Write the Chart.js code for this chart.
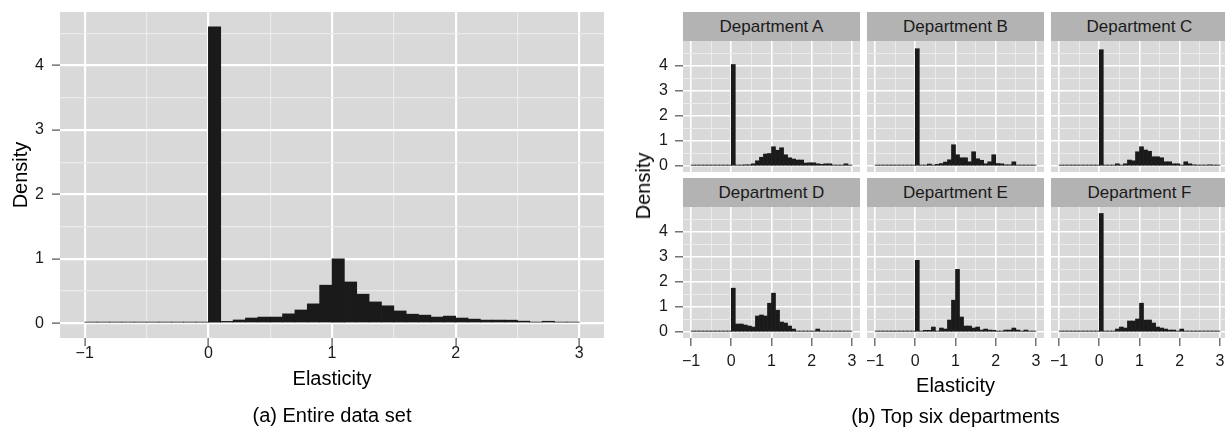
<!DOCTYPE html>
<html>
<head>
<meta charset="utf-8">
<title>Elasticity histograms</title>
<script src="https://cdn.jsdelivr.net/npm/chart.js@4.4.1/dist/chart.umd.min.js"></script>
<style>
  html, body { margin: 0; padding: 0; background: #fff; overflow: hidden; }
  body { width: 1225px; height: 431px; position: relative; font-family: 'Liberation Sans', Arial, sans-serif; }
  canvas { position: absolute; }
  .strip { position: absolute; height: 29px; line-height: 29px; background: #b3b3b3; color: #1a1a1a; text-align: center; font-size: 17px; }
  .label { position: absolute; color: #000; font-size: 20px; line-height: 24px; white-space: nowrap; text-align: center; }
</style>
</head>
<body>
<canvas id="chartAll" width="610" height="431" style="left:0;top:0"></canvas>
<div id="facets"></div>
<div class="label" style="left:683px;width:545px;top:373px">Elasticity</div>
<div class="label" style="left:683px;width:545px;top:404px">(b) Top six departments</div>
<div class="label" style="left:643px;top:186px;transform:translate(-50%,-50%) rotate(-90deg)">Density</div>

<script>
// Bin mid-points (bins of width 0.1 from -1 to 3)
const binMids = [-0.95, -0.85, -0.75, -0.65, -0.55, -0.45, -0.35, -0.25, -0.15, -0.05,
    0.05, 0.15, 0.25, 0.35, 0.45, 0.55, 0.65, 0.75, 0.85, 0.95,
    1.05, 1.15, 1.25, 1.35, 1.45, 1.55, 1.65, 1.75, 1.85, 1.95,
    2.05, 2.15, 2.25, 2.35, 2.45, 2.55, 2.65, 2.75, 2.85, 2.95];

// Tick values (half steps only carry minor grid lines)
const xTicks = [-1, -0.5, 0, 0.5, 1, 1.5, 2, 2.5, 3];
const yTicks = [0, 0.5, 1, 1.5, 2, 2.5, 3, 3.5, 4, 4.5];

// (a) entire data set - density per bin
const allData = [0.005, 0.005, 0.005, 0.012, 0.012, 0.006, 0.005, 0.005, 0.005, 0.005,
    4.6, 0.028, 0.05, 0.08, 0.095, 0.095, 0.145, 0.205, 0.3, 0.59,
    1.0, 0.64, 0.45, 0.33, 0.27, 0.19, 0.14, 0.125, 0.095, 0.11,
    0.08, 0.063, 0.048, 0.048, 0.047, 0.032, 0.016, 0.03, 0.016, 0.016];

// (b) top six departments
const deptNames = ['Department A', 'Department B', 'Department C', 'Department D', 'Department E', 'Department F'];
const deptA = [0.01, 0.01, 0.01, 0.01, 0.01, 0.01, 0.01, 0.01, 0.01, 0.01,
    4.05, 0.01, 0.01, 0.05, 0.05, 0.09, 0.21, 0.35, 0.48, 0.5,
    0.77, 0.63, 0.73, 0.45, 0.33, 0.28, 0.24, 0.24, 0.12, 0.13,
    0.13, 0.09, 0.07, 0.09, 0.09, 0.04, 0.04, 0.04, 0.09, 0.02];
const deptB = [0.01, 0.01, 0.01, 0.01, 0.01, 0.01, 0.01, 0.01, 0.01, 0.01,
    4.68, 0.01, 0.01, 0.08, 0.03, 0.07, 0.1, 0.16, 0.25, 0.85,
    0.45, 0.33, 0.33, 0.17, 0.57, 0.29, 0.23, 0.09, 0.17, 0.45,
    0.1, 0.09, 0.05, 0.05, 0.17, 0.01, 0.01, 0.01, 0.01, 0.01];
const deptC = [0.01, 0.01, 0.01, 0.01, 0.01, 0.01, 0.01, 0.01, 0.01, 0.01,
    4.64, 0.01, 0.01, 0.01, 0.09, 0.02, 0.09, 0.24, 0.21, 0.57,
    0.77, 0.64, 0.59, 0.37, 0.37, 0.33, 0.17, 0.17, 0.09, 0.09,
    0.02, 0.17, 0.09, 0.05, 0.01, 0.01, 0.01, 0.05, 0.01, 0.01];
const deptD = [0.01, 0.01, 0.01, 0.01, 0.03, 0.03, 0.03, 0.01, 0.01, 0.01,
    1.75, 0.32, 0.32, 0.28, 0.24, 0.2, 0.64, 0.68, 0.64, 1.15,
    1.55, 0.87, 0.4, 0.36, 0.24, 0.12, 0.04, 0.04, 0.01, 0.04,
    0.04, 0.12, 0.04, 0.04, 0.01, 0.01, 0.04, 0.01, 0.04, 0.01];
const deptE = [0.01, 0.03, 0.01, 0.01, 0.03, 0.01, 0.01, 0.01, 0.01, 0.01,
    2.86, 0.03, 0.07, 0.07, 0.2, 0.03, 0.16, 0.12, 0.48, 1.27,
    2.5, 0.6, 0.24, 0.24, 0.16, 0.2, 0.08, 0.12, 0.08, 0.07,
    0.04, 0.04, 0.08, 0.08, 0.16, 0.08, 0.04, 0.08, 0.03, 0.04];
const deptF = [0.03, 0.01, 0.01, 0.01, 0.04, 0.04, 0.01, 0.01, 0.01, 0.01,
    4.73, 0.02, 0.04, 0.01, 0.12, 0.2, 0.16, 0.44, 0.44, 0.52,
    1.15, 0.48, 0.48, 0.36, 0.2, 0.16, 0.12, 0.08, 0.08, 0.04,
    0.12, 0.03, 0.01, 0.04, 0.03, 0.01, 0.04, 0.01, 0.01, 0.04];
const deptData = [deptA, deptB, deptC, deptD, deptE, deptF];

// Axis ranges (ggplot style 5% expansion)
const xMin = -1.2, xMax = 3.2;
const allYMin = -0.23, allYMax = 4.83;
const deptYMin = -0.2375, deptYMax = 4.9875;

Chart.defaults.font.family = "'Liberation Sans', Arial, sans-serif";

// Grey panel behind the grid
const panelBg = {
    id: 'panelBg',
    beforeDraw(chart) {
        const a = chart.chartArea;
        const ctx = chart.ctx;
        ctx.save();
        ctx.fillStyle = '#d9d9d9';
        ctx.fillRect(a.left, a.top, a.right - a.left, a.bottom - a.top);
        ctx.restore();
    }
};

// Force an axis to a fixed thickness so the panels line up
function fixAxis(size) {
    return function (scale) {
        if (scale.isHorizontal()) scale.height = size; else scale.width = size;
        scale.paddingLeft = scale.paddingRight = scale.paddingTop = scale.paddingBottom = 0;
    };
}

function useTicks(values) {
    return function (scale) {
        scale.ticks = values.map(v => ({ value: v }));
    };
}

function tickText(v) {
    if (!Number.isInteger(v)) return '';
    return v < 0 ? '\u2212' + Math.abs(v) : String(v);
}

const isMajor = ctx => ctx.tick && Number.isInteger(ctx.tick.value);

function axisGrid(major, minor, showTicks) {
    return {
        offset: false,
        color: ctx => isMajor(ctx) ? '#ffffff' : '#ebebeb',
        lineWidth: ctx => isMajor(ctx) ? major : minor,
        drawTicks: showTicks,
        tickLength: 8,
        tickWidth: 1.3,
        tickColor: ctx => isMajor(ctx) ? '#5e5e5e' : 'rgba(0,0,0,0)'
    };
}

function histogram(canvas, values, cfg) {
    return new Chart(canvas, {
        type: 'bar',
        data: {
            datasets: [{
                data: binMids.map((m, i) => ({ x: m, y: values[i] })),
                backgroundColor: '#1a1a1a',
                borderWidth: 0,
                barPercentage: 1,
                categoryPercentage: 1,
                minBarLength: 1
            }]
        },
        plugins: [panelBg],
        options: {
            responsive: false,
            animation: false,
            events: [],
            layout: { padding: cfg.padding },
            plugins: {
                legend: { display: false },
                tooltip: { enabled: false },
                title: cfg.caption ? {
                    display: true,
                    text: cfg.caption,
                    position: 'bottom',
                    fullSize: false,
                    color: '#000',
                    font: { size: 20, weight: 'normal' },
                    padding: { top: 8, bottom: 3 }
                } : { display: false }
            },
            scales: {
                x: {
                    type: 'linear',
                    min: xMin,
                    max: xMax,
                    bounds: 'data',
                    offset: false,
                    afterBuildTicks: useTicks(xTicks),
                    afterFit: fixAxis(cfg.xSize),
                    border: { display: false },
                    grid: axisGrid(cfg.major, cfg.minor, cfg.xLabels),
                    ticks: {
                        display: cfg.xLabels,
                        autoSkip: false,
                        maxRotation: 0,
                        padding: cfg.xPad,
                        color: '#1a1a1a',
                        font: { size: 16 },
                        callback: v => tickText(v)
                    },
                    title: cfg.xTitle ? {
                        display: true,
                        text: cfg.xTitle,
                        color: '#000',
                        font: { size: 20 },
                        padding: { top: 0, bottom: 5 }
                    } : { display: false }
                },
                y: {
                    min: cfg.yMin,
                    max: cfg.yMax,
                    bounds: 'data',
                    afterBuildTicks: useTicks(yTicks),
                    afterFit: fixAxis(cfg.ySize),
                    border: { display: false },
                    grid: axisGrid(cfg.major, cfg.minor, cfg.yLabels),
                    ticks: {
                        display: cfg.yLabels,
                        autoSkip: false,
                        padding: cfg.yPad,
                        color: '#1a1a1a',
                        font: { size: 16 },
                        callback: v => tickText(v)
                    },
                    title: cfg.yTitle ? {
                        display: true,
                        text: cfg.yTitle,
                        color: '#000',
                        font: { size: 20 },
                        padding: { top: 9, bottom: 0 }
                    } : { display: false }
                }
            }
        }
    });
}

// (a) Entire data set
histogram(document.getElementById('chartAll'), allData, {
    padding: { top: 12, right: 6, left: 0, bottom: 0 },
    caption: '(a) Entire data set',
    xTitle: 'Elasticity',
    yTitle: 'Density',
    xSize: 58, ySize: 60,
    xPad: -2, yPad: 8,
    xLabels: true, yLabels: true,
    yMin: allYMin, yMax: allYMax,
    major: 2.2, minor: 1.2
});

// (b) facets, 3 columns x 2 rows
const colLeft = [683, 867, 1051];
const rowTop = [41, 207];
const panelW = 177, panelH = 131, stripH = 29;
const holder = document.getElementById('facets');

deptNames.forEach((name, i) => {
    const r = Math.floor(i / 3), c = i % 3;
    const yAxisW = c === 0 ? 40 : 0;
    const xAxisH = r === 1 ? 36 : 5;

    const strip = document.createElement('div');
    strip.className = 'strip';
    strip.style.left = colLeft[c] + 'px';
    strip.style.top = (rowTop[r] - stripH) + 'px';
    strip.style.width = panelW + 'px';
    strip.textContent = name;
    holder.appendChild(strip);

    const canvas = document.createElement('canvas');
    canvas.width = panelW + yAxisW;
    canvas.height = panelH + xAxisH;
    canvas.style.left = (colLeft[c] - yAxisW) + 'px';
    canvas.style.top = rowTop[r] + 'px';
    holder.appendChild(canvas);

    histogram(canvas, deptData[i], {
        padding: 0,
        xSize: xAxisH, ySize: yAxisW,
        xPad: 6, yPad: 7,
        xLabels: r === 1, yLabels: c === 0,
        yMin: deptYMin, yMax: deptYMax,
        major: 1.6, minor: 1
    });
});
</script>
</body>
</html>
